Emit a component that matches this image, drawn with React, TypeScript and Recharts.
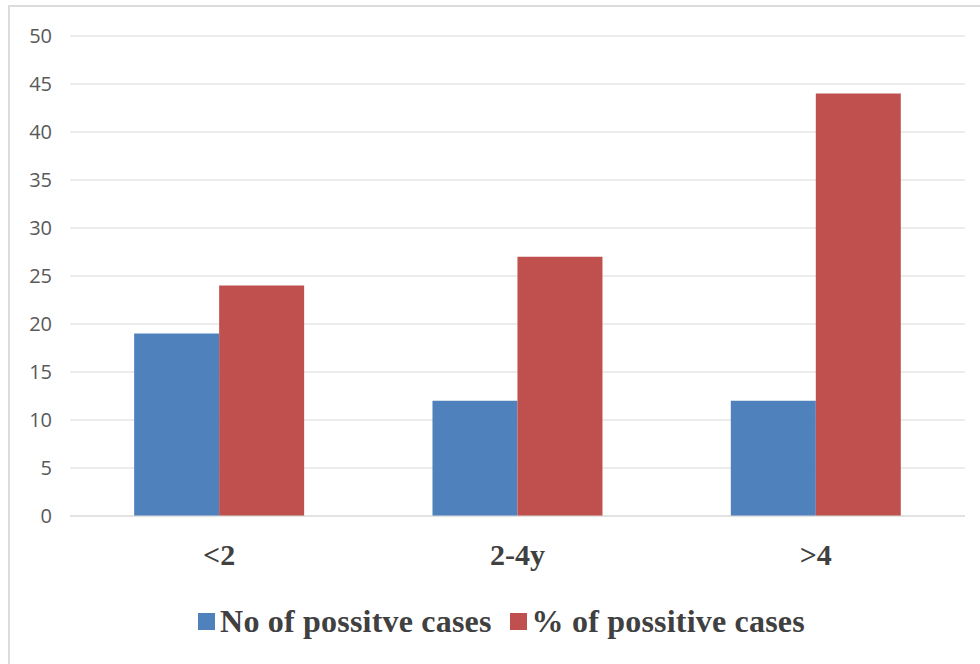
import { BarChart, Bar, XAxis, YAxis, CartesianGrid, Legend } from 'recharts';

const ageGroups = ['<2', '2-4y', '>4'];
const positiveCount = [19, 12, 12];
const positivePercent = [24, 27, 44];
const yTicks = [0, 5, 10, 15, 20, 25, 30, 35, 40, 45, 50];

const seriesNames = ['No of possitve cases', '% of possitive cases'];
const BLUE = '#4f81bd';
const RED = '#c0504d';

const rows = ageGroups.map((g, i) => ({
  group: g,
  count: positiveCount[i],
  percent: positivePercent[i],
}));

const serif = '"Liberation Serif", "DejaVu Serif", serif';

function LegendRow() {
  const items = [
    { name: seriesNames[0], color: BLUE },
    { name: seriesNames[1], color: RED },
  ];
  return (
    <div style={{ display: 'flex', justifyContent: 'center', alignItems: 'center', height: 30, paddingLeft: 8 }}>
      {items.map((it, i) => (
        <div key={it.name} style={{ display: 'flex', alignItems: 'center', marginLeft: i > 0 ? 18 : 0 }}>
          <span style={{ display: 'inline-block', width: 17, height: 17, background: it.color, marginRight: 5 }} />
          <span
            style={{
              fontFamily: serif,
              fontWeight: 'bold',
              fontSize: 32,
              letterSpacing: 0.2,
              color: '#404040',
              lineHeight: '30px',
              whiteSpace: 'nowrap',
            }}
          >
            {it.name}
          </span>
        </div>
      ))}
    </div>
  );
}

export default function App() {
  return (
    <div style={{ position: 'absolute', left: 0, top: 0, width: 980, height: 664, background: '#fff', overflow: 'hidden' }}>
      <div
        style={{
          position: 'absolute',
          left: 8,
          top: 5,
          width: 990,
          height: 680,
          borderTop: '2px solid #dcdcdc',
          borderLeft: '2px solid #dcdcdc',
        }}
      />
      <BarChart
        width={980}
        height={664}
        data={rows}
        margin={{ top: 36, right: 15, left: 30, bottom: 58 }}
        barCategoryGap="21.5%"
        barGap={0}
      >
        <CartesianGrid vertical={false} stroke="#d9d9d9" />
        <XAxis
          dataKey="group"
          height={60}
          axisLine={{ stroke: '#d9d9d9' }}
          tickLine={false}
          tickMargin={22}
          tick={{ fontFamily: serif, fontWeight: 'bold', fontSize: 30, fill: '#404040' }}
        />
        <YAxis
          width={40}
          domain={[0, 50]}
          ticks={yTicks}
          axisLine={false}
          tickLine={false}
          tickMargin={12}
          tick={{ fontFamily: '"Open Sans", sans-serif', fontSize: 20, fill: '#595959' }}
        />
        <Legend
          verticalAlign="bottom"
          wrapperStyle={{ height: 30, bottom: 28 }}
          content={() => <LegendRow />}
        />
        <Bar dataKey="count" name={seriesNames[0]} fill={BLUE} isAnimationActive={false} />
        <Bar dataKey="percent" name={seriesNames[1]} fill={RED} isAnimationActive={false} />
      </BarChart>
    </div>
  );
}
